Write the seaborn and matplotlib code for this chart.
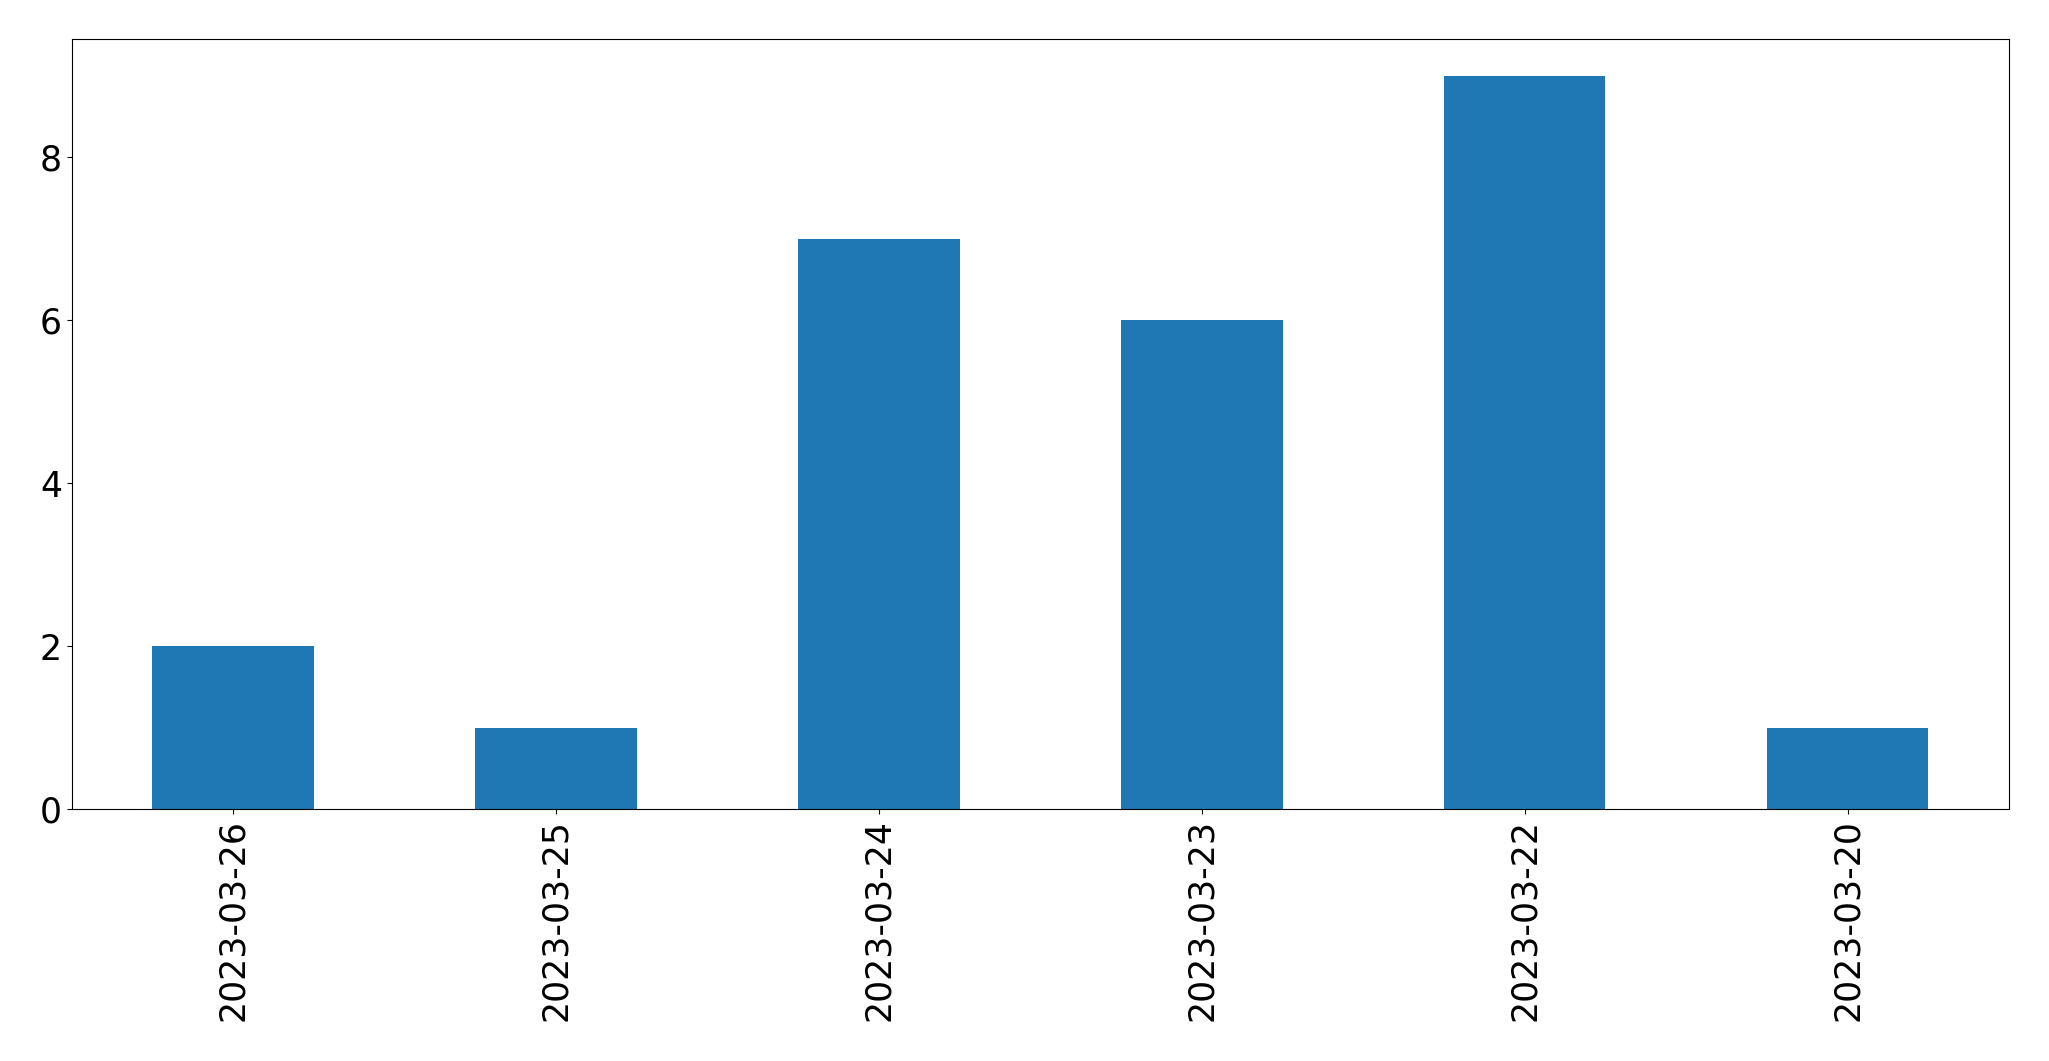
import pandas as pd
import matplotlib
matplotlib.use('Agg')
import matplotlib.pyplot as plt
import seaborn as sns

# 数据
dates = ['2023-03-26', '2023-03-25', '2023-03-24', '2023-03-23', '2023-03-22', '2023-03-20']
counts = [2, 1, 7, 6, 9, 1]

df = pd.DataFrame({'date': dates, 'count': counts})

fig, ax = plt.subplots(figsize=(20.49, 10.61), dpi=100)
sns.barplot(data=df, x='date', y='count', order=dates, color='#1f77b4',
            saturation=1, width=0.5, ax=ax)

ax.set_xlim(-0.5, len(dates) - 0.5)
ax.set_ylim(0, max(counts) * 1.05)
ax.set_xlabel('')
ax.set_ylabel('')
ax.tick_params(axis='both', labelsize=25)
ax.tick_params(axis='x', labelrotation=90)

plt.subplots_adjust(left=0.035, right=0.9805, top=0.963, bottom=0.2375)
plt.savefig('out.png', dpi=100)
